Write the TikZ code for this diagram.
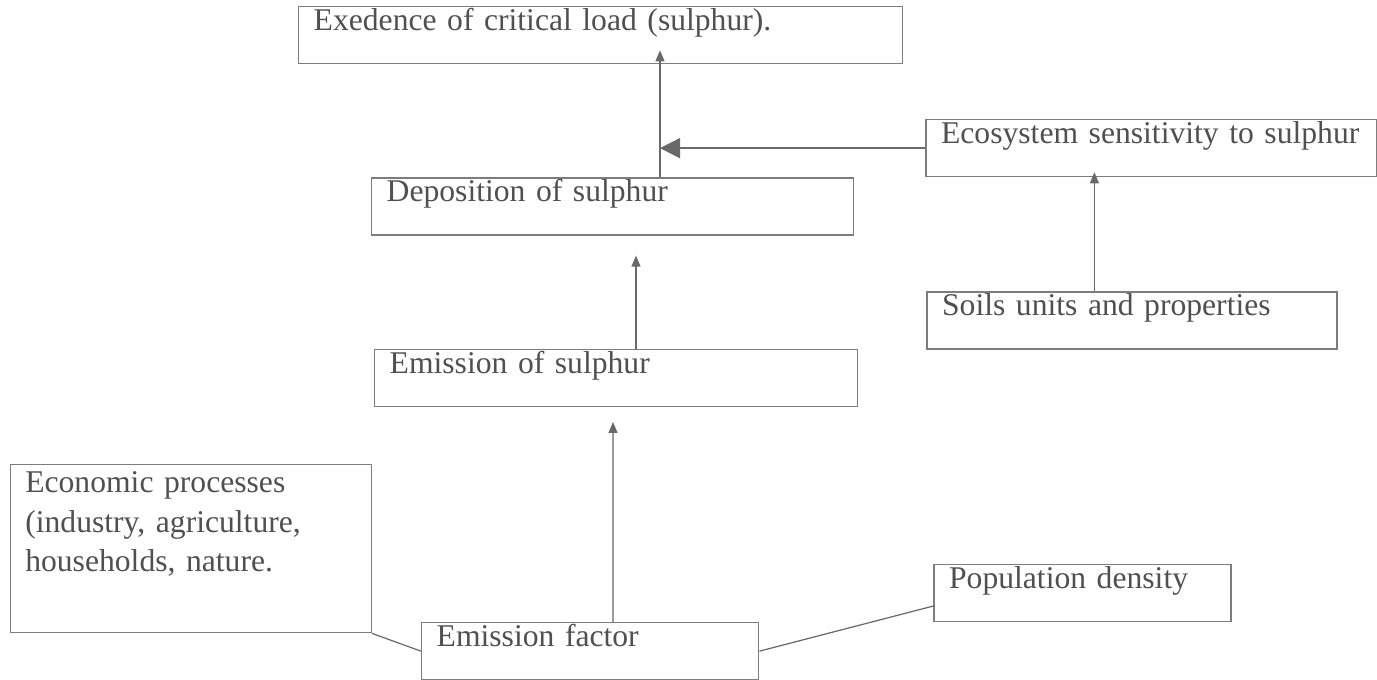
\documentclass[tikz,border=0pt]{standalone}
\usepackage{fontspec}
\setmainfont{Liberation Serif}
\usepackage{tikz}
\usetikzlibrary{arrows.meta,positioning}
\definecolor{boxcol}{RGB}{125,125,125}
\definecolor{txtcol}{RGB}{80,80,80}
\definecolor{arrcol}{RGB}{105,105,105}

\begin{document}
\begin{tikzpicture}[
  >=Triangle,
  box/.style={draw=boxcol, line width=0.8pt, align=left, text=txtcol,
              font=\fontsize{18}{22.5}\selectfont, inner xsep=0.3cm, inner ysep=0pt,
              text height=13.5pt, text depth=18.9pt},
  tall/.style={text height=16pt, text depth=79.6pt},
  flow/.style={-{Triangle[length=0.22cm,width=0.18cm]}, line width=0.7pt, arrcol},
  big/.style={-{Triangle[length=0.4cm,width=0.4cm]}, line width=0.8pt, arrcol},
  link/.style={line width=0.7pt, arrcol}
]
\useasboundingbox (0,0) rectangle (27.54,13.6);

\node[box, text width=6.14cm, anchor=north west] (emfac) at (8.42,1.16) {Emission factor};
\node[box, text width=9.06cm, above right=4.3cm and -0.94cm of emfac.north west] (emis) {Emission of sulphur};
\node[box, text width=9.04cm, above right=2.26cm and -0.06cm of emis.north west] (depo) {Deposition of sulphur};
\node[box, text width=11.48cm, above right=2.26cm and -1.46cm of depo.north west] (crit) {Exedence of critical load (sulphur).};

\node[box, text width=8.42cm, above right=0cm and 1.42cm of depo.north east] (eco) {Ecosystem sensitivity to sulphur};
\node[box, text width=7.6cm, below right=2.28cm and 0.02cm of eco.south west] (soils) {Soils units and properties};

\node[box, tall, text width=6.62cm, below left=1.14cm and 0.04cm of emis.south west] (econ) {Economic processes\\(industry, agriculture,\\households, nature.};
\node[box, text width=5.34cm, above right=0cm and 3.48cm of emfac.north east] (pop) {Population density};

\coordinate (dc) at ([xshift=5.78cm]depo.north west);
\draw[flow, shorten >=-0.28cm] (dc) -- (dc |- crit.south);
\draw[big] (eco.west) -- (eco.west -| dc);
\draw[flow, shorten >=-0.1cm] ([xshift=3.36cm]soils.north west) -- ([xshift=3.38cm]eco.south west);
\draw[flow, shorten >=0.4cm] ([xshift=5.24cm]emis.north west) -- ([xshift=5.3cm]depo.south west);
\draw[flow, shorten >=0.3cm] ([xshift=3.84cm]emfac.north west) -- ([xshift=4.78cm]emis.south west);
\draw[link] (econ.south east) -- (emfac.west);
\draw[link] (emfac.east) -- ([yshift=0.32cm]pop.south west);
\end{tikzpicture}
\end{document}
